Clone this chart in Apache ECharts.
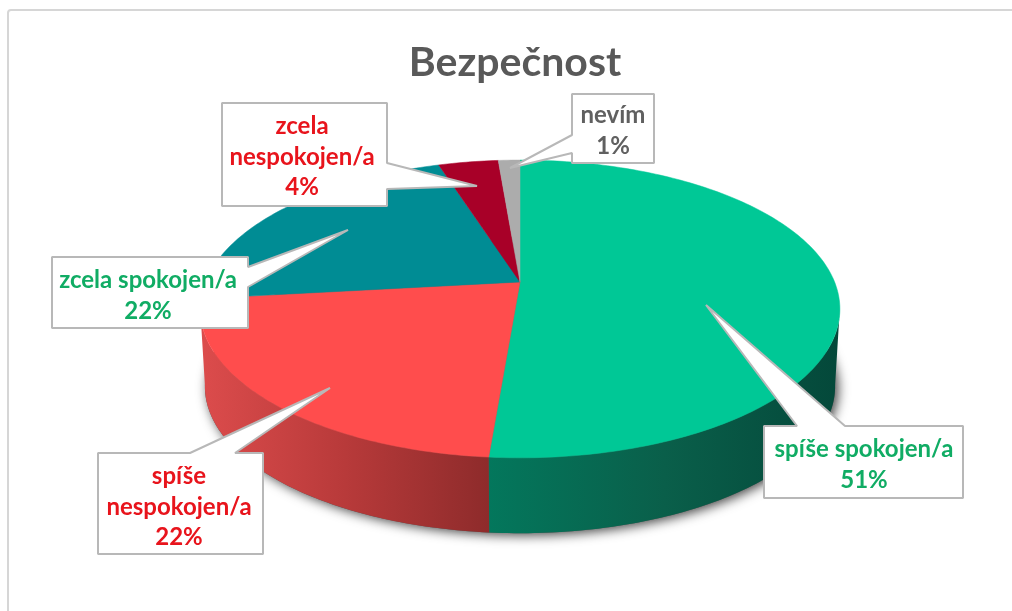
<!DOCTYPE html>
<html>
<head>
<meta charset="utf-8">
<title>Bezpečnost</title>
<script src="https://cdn.jsdelivr.net/npm/echarts@6/dist/echarts.min.js"></script>
<style>
    html, body { margin: 0; padding: 0; background: #fff; }
    #chart { width: 1012px; height: 611px; }
</style>
</head>
<body>
<div id="chart"></div>
<script>
const chartTitle = 'Bezpečnost'
const categories = ['spíše\u00a0spokojen/a', 'spíše\nnespokojen/a', 'zcela\u00a0spokojen/a', 'zcela\nnespokojen/a', 'nevím']
// the printed labels are rounded, the slices look a bit more exact than that
const shares = [51.3, 21.9, 21.9, 3.6, 1.3]

const topColors = ['#00c896', '#ff4d4d', '#008c94', '#a80028', '#acacac']
const wallStops = [
    ['#03775c', '#0a5f4a', '#04483a'],
    ['#dc4c4c', '#b83a3a', '#8e2b2b'],
    ['#005c62', '#005c62', '#005c62'],
    ['#700018', '#700018', '#700018'],
    ['#777777', '#777777', '#777777']
]
const textColors = ['#10ac64', '#e8141c', '#10ac64', '#e8141c', '#606060']

// box = [left, top, right, bottom], tail = [tipX, tipY, base1, base2, side]
const callouts = [
    { box: [764, 426, 963, 498], tail: [706, 305, 797, 845, 'top'], text: [864, 465] },
    { box: [98, 453, 263, 554], tail: [330, 388, 190, 235, 'top'], text: [179, 507] },
    { box: [52, 257, 248, 328], tail: [348, 230, 267, 287, 'right'], text: [148, 296] },
    { box: [222, 103, 387, 206], tail: [477, 186, 163, 189, 'right'], text: [302, 157] },
    { box: [572, 94, 654, 163], tail: [510, 168, 135, 153, 'left'], text: [613, 131] }
]

// perspective of the pie: apex of the slices, radii and the foreshortening
const pie = { cx: 520, cy: 282, rx: 314.6, ry: 144, tilt: 0.181, depth: 78, baseScale: 0.985 }

function rim(deg, scale, dy) {
    let a = deg * Math.PI / 180
    let u = Math.sin(a)
    let v = -Math.cos(a)
    let w = 1 - pie.tilt * v
    return [pie.cx + scale * pie.rx * u / w, pie.cy + dy + scale * pie.ry * v / w]
}

function arc(from, to, scale, dy) {
    let pts = []
    let steps = Math.max(2, Math.ceil(Math.abs(to - from)))
    for (let i = 0; i <= steps; i++) {
        pts.push(rim(from + (to - from) * i / steps, scale, dy))
    }
    return pts
}

let angles = []
let total = shares.reduce((s, v) => s + v, 0)
let acc = 0
shares.forEach(v => {
    angles.push([acc / total * 360, (acc + v) / total * 360])
    acc += v
})

function renderShadow() {
    return {
        type: 'polygon',
        shape: { points: arc(0, 360, pie.baseScale, pie.depth) },
        style: { fill: '#555', shadowBlur: 12, shadowColor: 'rgba(0,0,0,0.75)', shadowOffsetX: 3, shadowOffsetY: 2 }
    }
}

function renderWall(params, api) {
    let i = params.dataIndex
    let from = Math.max(angles[i][0], 100)
    let to = Math.min(angles[i][1], 260)
    if (to <= from) return null
    let pts = arc(from, to, 1, 0).concat(arc(to, from, pie.baseScale, pie.depth))
    let stops = wallStops[i]
    return {
        type: 'polygon',
        shape: { points: pts },
        style: {
            fill: new echarts.graphic.LinearGradient(0, 0, 1, 0, [
                { offset: 0, color: stops[0] },
                { offset: 0.5, color: stops[1] },
                { offset: 1, color: stops[2] }
            ])
        }
    }
}

function renderTop(params, api) {
    let i = params.dataIndex
    let pts = [[pie.cx, pie.cy]].concat(arc(angles[i][0], angles[i][1], 1, 0))
    return {
        type: 'polygon',
        shape: { points: pts },
        style: { fill: topColors[i], stroke: topColors[i], lineWidth: 0.5 }
    }
}

function calloutOutline(c) {
    let [l, t, r, b] = c.box
    let [tx, ty, b1, b2, side] = c.tail
    if (side === 'top') return [[l, t], [b1, t], [tx, ty], [b2, t], [r, t], [r, b], [l, b]]
    if (side === 'right') return [[l, t], [r, t], [r, b1], [tx, ty], [r, b2], [r, b], [l, b]]
    return [[l, t], [r, t], [r, b], [l, b], [l, b2], [tx, ty], [l, b1]]
}

function renderCallout(params, api) {
    let i = params.dataIndex
    let c = callouts[i]
    return {
        type: 'group',
        children: [
            {
                type: 'polygon',
                shape: { points: calloutOutline(c) },
                style: { fill: '#fff', stroke: '#b8b8b8', lineWidth: 2, lineJoin: 'bevel' }
            },
            {
                type: 'text',
                style: {
                    text: categories[i] + '\n' + Math.round(shares[i]) + '%',
                    x: c.text[0],
                    y: c.text[1],
                    fill: textColors[i],
                    font: 'bold 24px Lato',
                    lineHeight: 30.5,
                    align: 'center',
                    verticalAlign: 'middle'
                }
            }
        ]
    }
}

let charts = echarts.init(document.getElementById('chart'), null, { renderer: 'canvas' })
charts.setOption({
    animation: false,
    backgroundColor: '#fff',
    title: {
        text: chartTitle,
        left: 510,
        top: 37,
        textAlign: 'center',
        textStyle: { fontFamily: 'Lato', fontWeight: 'bold', fontSize: 41, color: '#595959' }
    },
    graphic: [{
        type: 'rect',
        z: -1,
        shape: { x: 8, y: 10, width: 1040, height: 640, r: 3 },
        style: { fill: '#fff', stroke: '#d6d6d6', lineWidth: 2 }
    }],
    series: [
        { type: 'custom', coordinateSystem: 'none', silent: true, z: 1, renderItem: renderShadow, data: [0] },
        { type: 'custom', coordinateSystem: 'none', silent: true, z: 2, renderItem: renderWall, data: shares },
        { type: 'custom', coordinateSystem: 'none', silent: true, z: 3, renderItem: renderTop, data: shares },
        { type: 'custom', coordinateSystem: 'none', silent: true, z: 4, renderItem: renderCallout, data: shares }
    ]
})
window.addEventListener('resize', () => {
    charts.resize()
})
</script>
</body>
</html>
